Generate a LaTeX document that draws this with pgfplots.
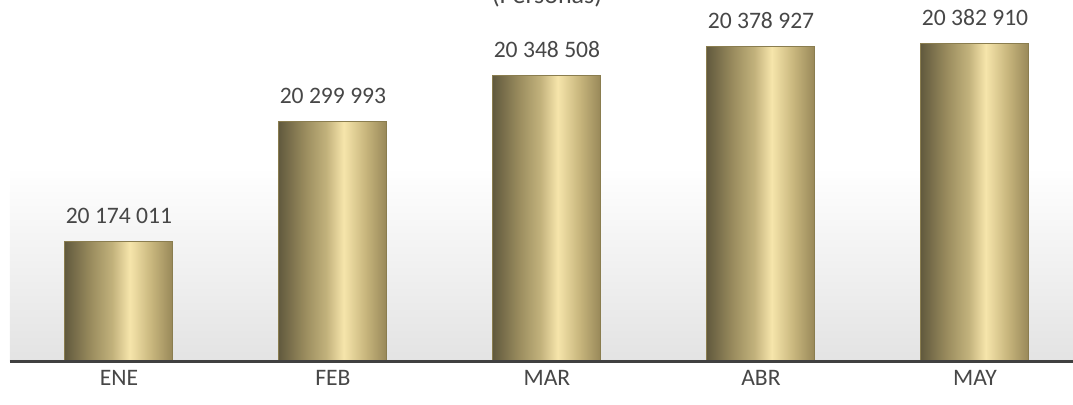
\documentclass[border=0pt]{standalone}
\usepackage{pgfplots}
\pgfplotsset{compat=1.18}
\usepackage{fontspec}
\setmainfont{Carlito}
\definecolor{txt}{HTML}{474747}
\definecolor{axln}{HTML}{404040}
\definecolor{bedge}{HTML}{8A7D4F}
\definecolor{bA}{HTML}{625A3E}
\definecolor{bB}{HTML}{9A8C5E}
\definecolor{bC}{HTML}{C2B27C}
\definecolor{bD}{HTML}{F6E5AB}
\definecolor{bE}{HTML}{C8B67D}
\definecolor{bF}{HTML}{978758}
\pgfdeclarehorizontalshading{barshade}{100bp}{%
  color(0bp)=(bA); color(25bp)=(bA); color(37bp)=(bB); color(47bp)=(bC);
  color(55bp)=(bD); color(65bp)=(bE); color(75bp)=(bF); color(100bp)=(bF)}
\pgfplotsset{mybar/.style={draw=bedge, line width=0.5pt, shading=barshade,
    nodes near coords, point meta=explicit symbolic,
    nodes near coords style={anchor=base, yshift=9pt, inner sep=0pt, text=txt, font=\fontsize{11.8}{13}\selectfont}}}
\begin{document}
\begin{tikzpicture}
\useasboundingbox (0,0) rectangle (536.5pt,202.5pt);
\node[text=txt, font=\fontsize{13}{15}\selectfont, anchor=base] at (273.5pt,200.8pt) {(Personas)};
\begin{axis}[
  at={(5pt,21.5pt)}, anchor=south west,
  scale only axis, width=531.5pt, height=181pt,
  xmin=-0.509, xmax=4.458,
  ymin=20048000, ymax=20428100,
  axis lines=none,
  ytick=\empty,
  xtick=\empty,
  clip=false,
  ybar, bar width=54pt, bar shift=0pt,
]
\path[top color=white, bottom color=black!11] (rel axis cs:0,0) rectangle (rel axis cs:1,0.539);
\addplot[mybar] coordinates {(0,20174011) [20 174 011]};
\addplot[mybar] coordinates {(1,20299993) [20 299 993]};
\addplot[mybar] coordinates {(2,20348508) [20 348 508]};
\addplot[mybar] coordinates {(3,20378927) [20 378 927]};
\addplot[mybar] coordinates {(4,20382910) [20 382 910]};
\draw[axln, line width=1.5pt] (rel axis cs:0,0) -- (rel axis cs:1,0);
\foreach \i/\n in {0/ENE,1/FEB,2/MAR,3/ABR,4/MAY}{
  \edef\tmp{\noexpand\node[text=txt, font=\noexpand\fontsize{11.8}{13}\noexpand\selectfont, anchor=center] at (axis cs:\i,20048000) [yshift=-8pt] {\n};}\tmp
}
\end{axis}
\end{tikzpicture}
\end{document}
